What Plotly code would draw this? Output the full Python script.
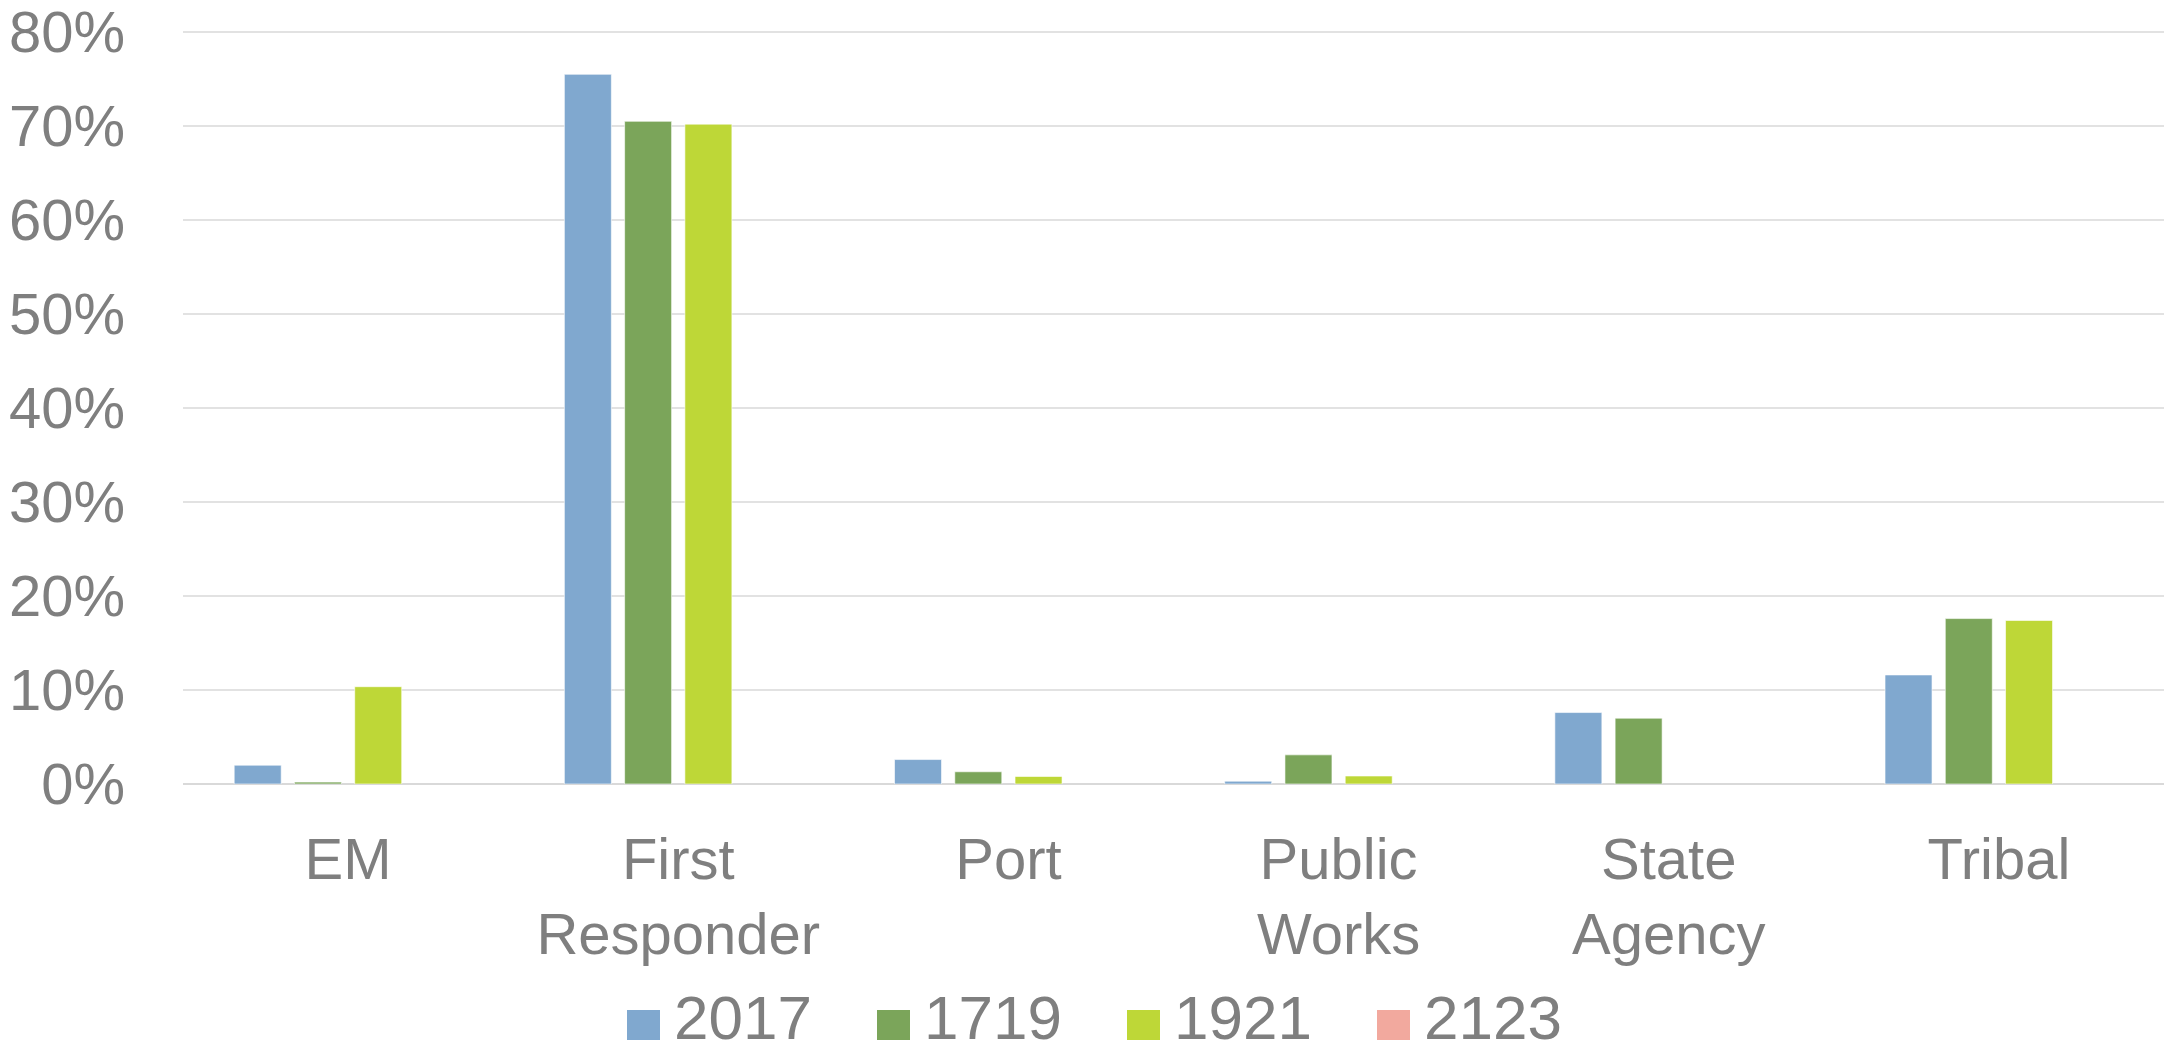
import plotly.graph_objects as go

categories = ["EM", "First<br>Responder", "Port", "Public<br>Works", "State<br>Agency", "Tribal"]
series_names = ["2017", "1719", "1921", "2123"]
v2017 = [2.0, 75.5, 2.6, 0.3, 7.6, 11.6]
v1719 = [0.2, 70.5, 1.3, 3.1, 7.0, 17.6]
v1921 = [10.35, 70.2, 0.8, 0.85, None, 17.4]
v2123 = [None, None, None, None, None, None]
colors = ["#80A8CF", "#7BA55A", "#BED737", "#F2A99E"]

FONT = "Liberation Sans, Arial, sans-serif"
GRAY = "#7f7f7f"

W, H = 2164, 1059
ML, MR, MT, MB = 183, 0, 23, 275
PW, PH = W - ML - MR, H - MT - MB

fig = go.Figure()
for name, vals, col in zip(series_names, [v2017, v1719, v1921, v2123], colors):
    fig.add_trace(go.Bar(
        x=categories, y=vals, name=name, showlegend=False,
        marker=dict(color=col, line=dict(color="rgba(255,255,255,0.6)", width=1)),
    ))

# manual legend (large swatches like the original)
def px_x(px):
    return (px - ML) / PW

def px_y(py):
    return (H - MB - py) / PH

leg_start, leg_step, sw_w, sw_h, sw_cy, txt_cy = 627, 250, 33, 30, 1025, 1017
for i, (name, col) in enumerate(zip(series_names, colors)):
    x0 = leg_start + i * leg_step
    fig.add_shape(type="rect", xref="paper", yref="paper",
                  x0=px_x(x0), x1=px_x(x0 + sw_w),
                  y0=px_y(sw_cy + sw_h / 2), y1=px_y(sw_cy - sw_h / 2),
                  fillcolor=col, line=dict(width=0))
    fig.add_annotation(xref="paper", yref="paper", x=px_x(x0 + sw_w + 12), y=px_y(txt_cy),
                       xanchor="left", yanchor="middle", text=name, showarrow=False,
                       font=dict(size=62, color=GRAY, family=FONT))

fig.update_layout(
    width=W, height=H,
    margin=dict(l=ML, r=MR, t=MT, b=MB, autoexpand=False),
    paper_bgcolor="white", plot_bgcolor="white",
    barmode="group", bargap=0.27, bargroupgap=0.22,
    font=dict(family=FONT, color=GRAY, size=58),
    showlegend=False,
    yaxis=dict(
        range=[0, 80.96], tick0=0, dtick=10, ticksuffix="%",
        showgrid=True, gridcolor="#e2e2e2", gridwidth=2,
        zeroline=True, zerolinecolor="#d9d9d9", zerolinewidth=2,
        showline=False, ticks="", ticklabelstandoff=57,
        ticklabeloverflow="allow",
        tickfont=dict(size=58, color=GRAY, family=FONT),
        automargin=False, fixedrange=True,
    ),
    xaxis=dict(
        showgrid=False, showline=False, ticks="",
        tickfont=dict(size=58, color=GRAY, family=FONT),
        ticklabelstandoff=36, automargin=False,
    ),
)

fig.write_html("out.html", config={"displayModeBar": False},
               post_script="document.body.style.margin='0';")
